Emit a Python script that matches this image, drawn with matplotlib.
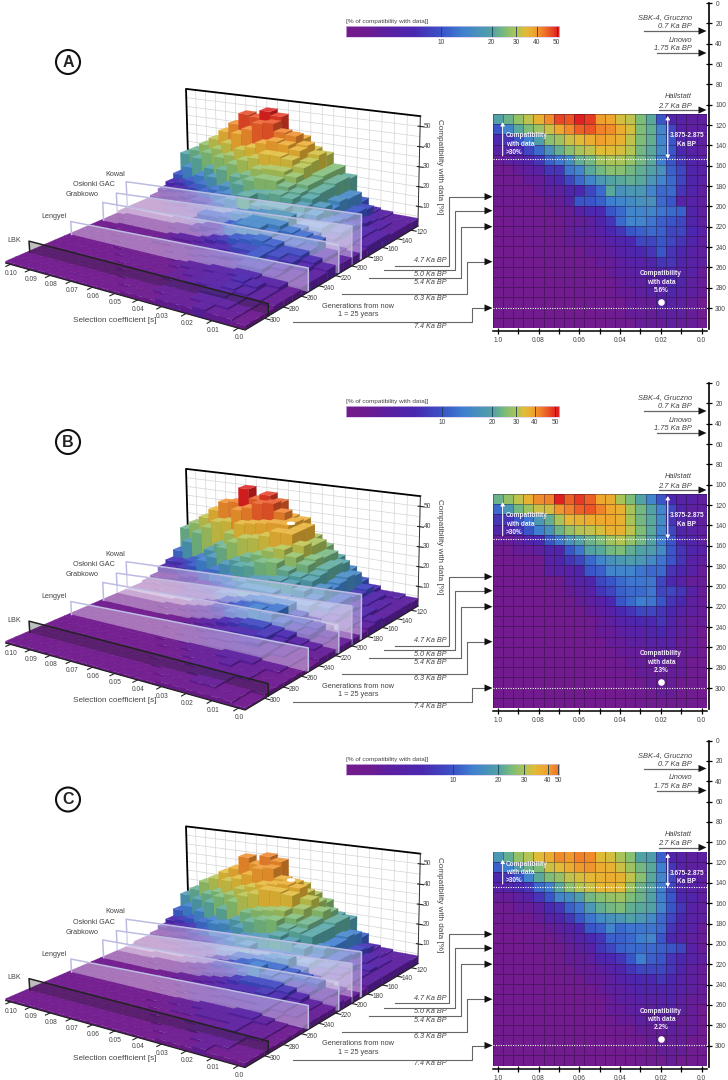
#libraries
import numpy as np
import matplotlib
matplotlib.use("Agg")
import matplotlib.pyplot as plt
from matplotlib.collections import PolyCollection
from matplotlib.colors import LinearSegmentedColormap, Normalize
from matplotlib.patches import Ellipse

plt.rcParams['font.family'] = ['Liberation Sans', 'DejaVu Sans']

#compatibility with data [%], rows are generations 110-320 (top to bottom), columns s = 0.10 to 0.0
VALUES_A = [
    [20,23,27,31,36,41,47,46,50,48,39,38,33,31,25,21,10,6,5,4,4],
    [10,15,21,25,28,32,38,41,45,46,42,41,37,33,25,22,15,9,5,4,4],
    [7,8,10,14,19,26,28,32,34,37,39,38,36,31,25,22,15,10,6,5,4],
    [5,6,7,9,12,17,22,26,29,31,34,34,33,30,24,21,16,10,7,5,4],
    [3,4,5,6,8,11,13,16,22,24,28,29,29,27,24,21,14,10,8,6,5],
    [2,2,3,4,5,8,8,13,15,21,24,26,26,24,22,20,17,11,9,6,5],
    [2,2,2,3,3,5,7,9,12,15,18,20,21,22,21,18,15,12,9,6,5],
    [2,2,2,2,3,4,4,6,7,9,12,21,17,18,18,15,12,12,8,6,4],
    [2,2,2,2,2,3,3,5,10,10,11,14,15,16,17,17,12,10,5,5,4],
    [1,2,2,2,2,2,3,3,5,7,7,10,12,15,15,15,13,12,11,6,4],
    [1,1,2,2,2,2,2,3,3,4,6,8,12,15,15,13,11,10,9,6,4],
    [1,1,2,2,2,2,2,3,4,4,5,7,8,10,11,12,11,9,9,7,5],
    [1,1,1,2,2,2,2,3,3,3,4,5,6,7,9,9,10,9,8,6,4],
    [1,1,1,1,2,2,2,2,2,3,3,4,5,6,7,8,10,8,7,5,4],
    [1,1,1,1,1,2,2,2,2,2,3,3,4,5,5,6,8,8,6,5,4],
    [1,1,1,1,1,1,2,2,2,2,2,3,4,4,5,5,6,6,5,5,3],
    [1,1,1,1,1,1,1,2,2,2,2,2,3,4,4,5,5,7,6,4,3],
    [1,1,1,1,1,1,1,1,2,2,2,2,3,3,4,5,5,6,5,4,3],
    [1,1,1,1,1,1,1,1,1,2,2,2,2,3,3,3,5,5,4,3,2],
    [1,1,1,1,1,1,1,1,1,1,2,2,2,3,3,3,4,4,4,3,2],
    [1,1,1,1,1,1,1,1,1,1,1,2,2,2,3,3,3,4,3,3,2],
]
VALUES_B = [
    [23,27,31,36,41,42,50,45,48,45,38,37,29,25,20,15,10,7,5,5,4],
    [12,18,24,28,32,33,40,42,45,46,42,38,36,29,24,20,15,9,6,4,4],
    [8,8,10,13,18,22,29,35,36,37,38,38,36,29,24,21,16,8,6,5,4],
    [6,6,8,10,14,17,23,27,30,31,33,36,36,31,25,21,15,9,6,5,4],
    [3,3,4,6,7,10,13,17,20,23,25,28,30,27,24,20,14,10,7,6,4],
    [2,2,3,3,4,6,6,10,13,20,21,24,25,22,20,19,16,10,8,6,5],
    [1,1,2,2,2,5,6,8,9,12,15,17,18,19,18,16,13,10,8,5,4],
    [1,1,1,2,2,4,5,5,6,10,11,15,15,15,13,12,12,8,7,5,3],
    [1,1,1,1,1,2,2,4,5,6,9,10,12,13,13,13,9,7,5,3,3],
    [1,1,1,1,1,2,2,3,4,5,8,9,11,12,12,13,9,9,8,5,3],
    [1,1,1,1,1,1,2,2,3,4,5,7,10,12,14,13,10,8,7,4,3],
    [1,1,1,1,1,1,1,2,2,3,4,5,7,8,9,9,8,7,5,4,3],
    [1,1,1,1,1,1,1,1,2,2,3,4,5,6,7,7,8,6,4,3,3],
    [1,1,1,1,1,1,1,1,1,2,3,3,4,5,5,6,7,5,4,3,2],
    [1,1,1,1,1,1,1,1,1,2,2,3,3,4,4,5,5,5,3,3,2],
    [1,1,1,1,1,1,1,1,1,1,2,2,3,3,3,4,4,4,3,3,2],
    [1,1,1,1,1,1,1,1,1,1,1,2,2,3,3,3,4,3,3,2,2],
    [1,1,1,1,1,1,1,1,1,1,1,2,2,2,3,3,3,3,3,2,2],
    [1,1,1,1,1,1,1,1,1,1,1,1,2,2,2,3,3,3,2,2,2],
    [1,1,1,1,1,1,1,1,1,1,1,1,1,2,2,2,3,3,2,2,1],
    [1,1,1,1,1,1,1,1,1,1,1,1,1,1,2,2,2,2,2,2,1],
]
VALUES_C = [
    [18,22,27,30,34,37,44,41,46,44,34,33,29,26,20,19,11,6,5,4,4],
    [11,14,19,23,25,32,34,37,41,42,37,36,32,28,24,21,14,8,5,4,4],
    [7,8,10,15,21,25,27,31,33,35,36,37,36,31,26,21,15,9,6,5,4],
    [5,6,7,8,12,14,21,26,30,32,35,35,34,28,23,20,14,9,6,5,4],
    [3,3,4,5,8,10,15,16,19,24,26,27,28,25,23,20,14,10,7,6,4],
    [2,2,3,3,4,7,8,11,13,18,22,24,25,22,21,20,15,10,8,5,4],
    [2,2,2,2,3,5,6,8,10,13,16,17,18,20,18,16,12,9,7,5,4],
    [1,1,2,2,2,3,4,5,7,10,11,15,12,13,13,13,12,8,6,5,3],
    [1,1,1,2,2,2,3,4,5,7,8,11,11,12,14,15,10,7,5,4,3],
    [1,1,1,1,2,2,2,3,4,5,8,9,11,12,12,12,11,10,9,5,3],
    [1,1,1,1,1,2,2,3,3,4,6,7,8,10,14,11,10,8,7,5,4],
    [1,1,1,1,1,1,2,2,3,3,4,5,6,8,9,9,9,8,6,4,3],
    [1,1,1,1,1,1,1,2,2,3,3,4,5,6,7,7,8,7,5,4,3],
    [1,1,1,1,1,1,1,1,2,2,3,4,4,5,6,6,6,6,5,4,3],
    [1,1,1,1,1,1,1,1,1,2,2,3,4,4,5,5,5,6,4,3,3],
    [1,1,1,1,1,1,1,1,1,2,2,3,3,4,4,4,5,5,4,3,2],
    [1,1,1,1,1,1,1,1,1,1,2,2,3,3,4,4,4,4,3,3,2],
    [1,1,1,1,1,1,1,1,1,1,1,2,2,2,3,3,3,4,3,3,2],
    [1,1,1,1,1,1,1,1,1,1,1,1,2,2,2,3,3,3,3,2,2],
    [1,1,1,1,1,1,1,1,1,1,1,1,1,2,2,2,3,3,3,2,2],
    [1,1,1,1,1,1,1,1,1,1,1,1,1,1,2,2,2,3,2,2,2],
]

#panel labels
PANELS = ["A", "B", "C"]
BEST_FIT = ["5.6%", "2.3%", "2.2%"]
WINDOW_TEXT = ["3.875-2.875", "3.875-2.875", "3.675-2.875"]
WINDOW_GEN = [154, 154, 145] #dotted line
S_LABELS = ["0.10","0.09","0.08","0.07","0.06","0.05","0.04","0.03","0.02","0.01","0.0"]
GEN_TICKS = [120,140,160,180,200,220,240,260,280,300]
Z_TICKS = [10,20,30,40,50]
CB_TICKS = [10,20,30,40,50]
CB_POS = [[.449,.685,.801,.897,.991], [.454,.688,.801,.889,.983], [.504,.716,.838,.950,.999]]

#cultures: name, generation, sheet height left/right
CULTURES = ["Kowal", "Osłonki GAC", "Grabkowo", "Lengyel", "LBK"]
CULTURE_GEN = [188, 200, 216, 252, 296]
SHEET_LEFT = [16, 12, 10, 7, 6]
SHEET_RIGHT = [22, 19, 14, 11, 5.5]
DATES = ["4.7 Ka BP", "5.0 Ka BP", "5.4 Ka BP", "6.3 Ka BP", "7.4 Ka BP"]

#sites on the long axis
SITES = ["SBK-4, Gruczno", "Linowo", "Hallstatt"]
SITE_DATES = ["0.7 Ka BP", "1.75 Ka BP", "2.7 Ka BP"]

#colours by value
STOPS = [(0,"#751b8c"),(2,"#6e1c90"),(4,"#5c20a0"),(7,"#4a28b0"),(10,"#3a55c8"),(14,"#3f80d0"),(20,"#52a2a5"),
         (25,"#7dbd78"),(30,"#b4c452"),(34,"#e0bc38"),(38,"#eea82f")]
TOP_RED = [(43,"#f07a2a"),(47,"#e84826"),(50,"#e02020")]
TOP_ORANGE = [(50,"#f07028")]

PANEL_OFFSET = [0, 380, 737.5]
GREY = "#444444"

#camera of the 3d plots: grid position (column, row from the front, height) -> pixel in panel A
CAM_WORLD = [(0,0,0),(21,0,0),(21,21,0),(0,21,0),(0,21,55),(21,21,55),(10.5,0,0),(21,10,0),(21,20,0),(21,2,0)]
CAM_PIXEL = [(3.3,265),(253.3,325),(420.7,226.7),(191.3,178.3),(185.7,92.7),(420.7,111.7),(114.3,291.7),(331.7,279),(407,234.5),(261.7,320)]

def fitCamera(world, pixel):
    #direct linear transform, least squares on the points above
    rows = []
    for (X, Y, Z), (u, v) in zip(world, pixel):
        u, v = u/100, v/100
        rows.append([X, Y, Z, 1, 0, 0, 0, 0, -u*X, -u*Y, -u*Z, -u])
        rows.append([0, 0, 0, 0, X, Y, Z, 1, -v*X, -v*Y, -v*Z, -v])
    vt = np.linalg.svd(np.array(rows, dtype=float))[2]
    return vt[-1].reshape(3, 4)

CAMERA = fitCamera(CAM_WORLD, CAM_PIXEL)

def project(x, y, z):
    p = CAMERA @ np.array([x, y, z, 1.0])
    return (100*p[0]/p[2], 100*p[1]/p[2])

fig = plt.figure(figsize=(7.28, 10.8), dpi=100)

def pxAxes(x0, y0, x1, y1, **kw):
    #axes from pixel box (y from the top)
    return fig.add_axes([x0/728, 1-y1/1080, (x1-x0)/728, (y1-y0)/1080], **kw)

def makeCmap(top):
    stops = STOPS + top
    return LinearSegmentedColormap.from_list("compat", [(v/50, c) for v, c in stops])

def shadeColor(c, f):
    return (c[0]*f, c[1]*f, c[2]*f, 1)

def lighten(c, f):
    return (c[0]+(1-c[0])*f, c[1]+(1-c[1])*f, c[2]+(1-c[2])*f, 1)

def draw3d(ov, values, cmap, norm, off):
    def pt(x, y, z):
        px, py = project(x, y, z)
        return (px, py+off)

    def line(xs, ys, zs, **kw):
        pts = [pt(a, b, c) for a, b, c in zip(xs, ys, zs)]
        ov.plot([p[0] for p in pts], [p[1] for p in pts], **kw)

    #bars, one collection per row from the back to the front
    for r in range(21):
        polys, cols = [], []
        y = 20-r
        for c in range(21):
            h = values[r][c]
            col = cmap(norm(h))
            polys.append([pt(c, y, 0), pt(c+1, y, 0), pt(c+1, y, h), pt(c, y, h)])
            cols.append(shadeColor(col, .92))
            polys.append([pt(c+1, y, 0), pt(c+1, y+1, 0), pt(c+1, y+1, h), pt(c+1, y, h)])
            cols.append(shadeColor(col, .72))
            polys.append([pt(c, y, h), pt(c+1, y, h), pt(c+1, y+1, h), pt(c, y+1, h)])
            cols.append(lighten(col, min(.02+h*.006, .14)))
        ov.add_collection(PolyCollection(polys, facecolors=cols, edgecolors=cols, linewidths=.15, zorder=10+r))

    #back wall
    for x in range(0, 22):
        line([x, x], [21, 21], [0, 55], color="#d4d4d4", lw=.5, zorder=1)
    for z in range(5, 55, 5):
        line([0, 21], [21, 21], [z, z], color="#d4d4d4", lw=.5, zorder=1)
    line([0, 0, 21], [21, 21, 21], [0, 55, 55], color="black", lw=1.3, zorder=2)
    line([21, 21], [21, 21], [0, 55], color="#333333", lw=.7, zorder=2)

    #sheets of the cultures
    for name, g, hl, hr in zip(CULTURES, CULTURE_GEN, SHEET_LEFT, SHEET_RIGHT):
        y = (320-g)/10
        z = 10+int(np.ceil((g-110)/10))-.5
        if name == "LBK":
            fill, edge = (.1, .1, .1, .28), "#222222"
        else:
            fill, edge = (1, 1, 1, .38), "#bcbce2"
        ov.add_collection(PolyCollection([[pt(0, y, 0), pt(21, y, 0), pt(21, y, hr), pt(0, y, hl)]],
                                         facecolors=[fill], edgecolors="none", zorder=z))
        line([0, 0, 21, 21], [y, y, y, y], [0, hl, hr, 0], color=edge, lw=1.1, zorder=z+.1)

    #axes lines and ticks
    top = 100
    line([0, 21, 21], [0, 0, 21], [0, 0, 0], color="#222222", lw=.9, zorder=top)
    for i, lab in enumerate(S_LABELS):
        x = 2*i+.5
        line([x, x], [0, -.45], [0, 0], color="#222222", lw=.8, zorder=top)
        px, py = pt(x, 0, 0)
        ov.text(max(px+1, 6), py+9.5, lab, ha="center", va="center", fontsize=4.8, color=GREY, zorder=top)
    for g in GEN_TICKS:
        y = (320-g)/10
        line([21, 21.4], [y, y], [0, 0], color="#222222", lw=.8, zorder=top)
        px, py = pt(21, y, 0)
        ov.text(px+10.5, py+2.5, str(g), ha="center", va="center", fontsize=4.8, color=GREY, zorder=top)
    for z in Z_TICKS:
        line([20.85, 21.3], [21, 21], [z, z], color="#222222", lw=.8, zorder=top)
        px, py = pt(21, 21, z)
        ov.text(px+4, py, str(z), ha="left", va="center", fontsize=4.8, color=GREY, zorder=top)

def drawHeatmap(values, cmap, norm, off, i):
    ax = pxAxes(492.7, 114+off, 706.7, 328+off)
    s_edges = np.linspace(.1025, -.0025, 22)
    g_edges = np.arange(110, 330, 10)
    ax.pcolormesh(s_edges, g_edges, np.array(values), cmap=cmap, norm=norm,
                  edgecolors=(.1, .05, .15, .38), linewidth=.5)
    ax.set_xlim(.1025, -.0025)
    ax.set_ylim(320, 110)
    for sp in ["top", "left", "right"]:
        ax.spines[sp].set_visible(False)
    ax.spines["bottom"].set_position(("outward", 2.5))
    ax.spines["bottom"].set_linewidth(1.1)
    ax.set_yticks([])
    ax.set_xticks([.10, .08, .06, .04, .02, 0])
    ax.set_xticklabels(["1.0", "0.08", "0.06", "0.04", "0.02", "0.0"], fontsize=4.8, color=GREY)
    ax.set_xticks([.09, .07, .05, .03, .01], minor=True)
    ax.tick_params(axis="x", which="both", direction="inout", length=4.5, width=.9, pad=2)

    #dotted lines
    for g in [WINDOW_GEN[i], 300]:
        ax.axhline(g, color="white", lw=.8, ls=(0, (1, 1.2)))

    #best fit point
    ax.scatter([.02], [294], s=14, color="white", zorder=5)
    ax.text(.02, 286.5, "Compatibility\nwith data\n" + BEST_FIT[i], ha="center", va="bottom",
            fontsize=4.7, color="#f4eefa", fontweight="bold", linespacing=1.25)

    #windows with >30%
    g_top = 112
    ax.annotate("", xy=(.0976, g_top+6), xytext=(.0976, WINDOW_GEN[i]-3),
                arrowprops=dict(arrowstyle="-|>,head_width=.12,head_length=.2", color="white", lw=.8, shrinkA=0, shrinkB=0))
    ax.annotate("", xy=(.0166, g_top), xytext=(.0166, WINDOW_GEN[i]),
                arrowprops=dict(arrowstyle="<|-|>,head_width=.12,head_length=.2", color="white", lw=.8, shrinkA=0, shrinkB=0))
    ax.text(.0960, WINDOW_GEN[i]-3, "Compatibility\nwith data\n>30%", ha="left", va="bottom",
            fontsize=4.7, color="#f4eefa", fontweight="bold", linespacing=1.25)
    ax.text(.0073, g_top+31, WINDOW_TEXT[i] + "\nKa BP", ha="center", va="bottom",
            fontsize=4.7, color="#f4eefa", fontweight="bold", linespacing=1.25)

    #long axis with the generations
    ra = pxAxes(500, 3+off, 709, 329+off)
    ra.patch.set_alpha(0)
    ra.set_ylim(320.6, 0)
    ra.set_xticks([])
    for sp in ["top", "left", "bottom"]:
        ra.spines[sp].set_visible(False)
    ra.spines["right"].set_linewidth(1.2)
    ra.yaxis.tick_right()
    ra.set_yticks(np.arange(0, 301, 20))
    ra.tick_params(axis="y", direction="inout", length=5, width=.9, labelsize=4.8, labelcolor=GREY, pad=2)

def drawColorbar(cmap, norm, off, pos):
    cax = pxAxes(345.7, 26+off, 558.7, 37+off)
    t = np.linspace(0, 1, 300)
    vals = np.interp(t, [0] + pos, [0] + CB_TICKS)
    cax.imshow(vals[None, :], cmap=cmap, norm=norm, aspect="auto", extent=(0, 1, 0, 1))
    for p in pos:
        cax.axvline(p, color="#1d3f55", lw=.6)
    cax.set_yticks([])
    cax.set_xticks(pos)
    cax.set_xticklabels([str(v) for v in CB_TICKS], fontsize=4.8, color=GREY)
    cax.tick_params(axis="x", length=0, pad=1.5)
    for sp in cax.spines.values():
        sp.set_edgecolor("#d8c8ee")
        sp.set_linewidth(.5)

def arrowHead(ov, x, y, size=8, half=3.6):
    ov.fill([x-size, x, x-size], [y-half, y, y+half], color="#111111", lw=0, zorder=106)

def drawOverlay(ov, off, letter):
    #panel letter
    ov.add_patch(plt.Circle((68, 62+off), 12, fill=False, ec="#111111", lw=1.5))
    ov.text(68, 62.5+off, letter, ha="center", va="center", fontsize=11.5, fontweight="bold", color="#222222")

    #culture names
    name_x = [125, 115, 99, 67, 21]
    name_y = [174, 185, 195, 217, 240]
    for n, x, y in zip(CULTURES, name_x, name_y):
        ov.text(x, y+off, n, ha="right", va="center", fontsize=5.2, color=GREY)

    #axis titles
    ov.text(115, 321+off, "Selection coefficient [s]", ha="center", va="center", fontsize=5.9, color=GREY)
    ov.text(439, 167+off, "Compatibility with data [%]", ha="center", va="center", rotation=-90, fontsize=5.9, color=GREY)
    ov.text(358, 310.5+off, "Generations from now\n1 = 25 years", ha="center", va="center", fontsize=5.3, color=GREY, linespacing=1.25)
    ov.text(346, 21.5+off, "[% of compatibility with data]]", ha="left", va="center", fontsize=4.6, color=GREY)

    #leader lines from the sheets to the heatmap
    x_start = [395, 384, 369, 342, 293]
    y_start = [265.7, 270, 278, 294, 322]
    x_turn = [449, 455, 461, 467, 472]
    y_arrow = [196.7, 210.7, 226.7, 261.7, 308]
    y_date = [261, 274, 283, 299, 326]
    for k in range(5):
        ov.plot([x_start[k], x_turn[k], x_turn[k], 486], [y_start[k]+off, y_start[k]+off, y_arrow[k]+off, y_arrow[k]+off],
                color="#666666", lw=.8, zorder=105)
        arrowHead(ov, 492.5, y_arrow[k]+off)
        ov.text(447, y_date[k]+off, DATES[k], ha="right", va="center", fontsize=5.2, style="italic", color=GREY)

    #sites at the top right
    line_x = [644, 657, 659]
    line_y = [31, 53, 110]
    for k in range(3):
        ov.plot([line_x[k], 700], [line_y[k]+off, line_y[k]+off], color="#666666", lw=.9, zorder=105)
        arrowHead(ov, 706.5, line_y[k]+off)
        ov.text(692, line_y[k]-13+off, SITES[k], ha="right", va="center", fontsize=5.4, style="italic", color=GREY)
        ov.text(692, line_y[k]-4+off, SITE_DATES[k], ha="right", va="center", fontsize=5.4, style="italic", color=GREY)

#MAIN
all_values = [VALUES_A, VALUES_B, VALUES_C]
tops = [TOP_RED, TOP_RED, TOP_ORANGE]
norm = Normalize(0, 50)

overlay = fig.add_axes([0, 0, 1, 1], zorder=20)
overlay.patch.set_alpha(0)
overlay.set_xlim(0, 728)
overlay.set_ylim(1080, 0)
overlay.axis("off")

for i in range(3):
    cmap = makeCmap(tops[i])
    off = PANEL_OFFSET[i]
    draw3d(overlay, all_values[i], cmap, norm, off)
    drawHeatmap(all_values[i], cmap, norm, off, i)
    drawColorbar(cmap, norm, off, CB_POS[i])
    drawOverlay(overlay, off, PANELS[i])

#white speck on the hill of B and C
for y in [523.3, 880]:
    overlay.add_patch(Ellipse((291, y), 7, 2.2, color="white", zorder=50))

fig.savefig("out.png", dpi=100)
